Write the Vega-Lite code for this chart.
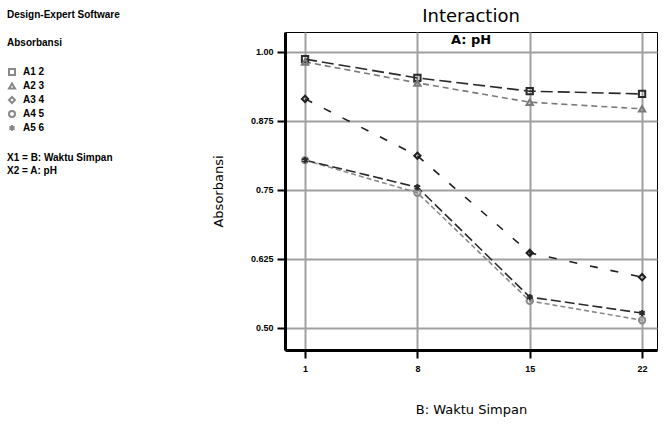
{
  "$schema": "https://vega.github.io/schema/vega-lite/v6.json",
  "autosize": "none",
  "width": 372,
  "height": 318,
  "padding": {"left": 285, "top": 32, "right": 8, "bottom": 74},
  "background": "white",
  "title": {
    "text": "Interaction",
    "subtitle": "A: pH",
    "anchor": "middle",
    "offset": -37,
    "font": "DejaVu Sans",
    "fontSize": 18,
    "fontWeight": "normal",
    "color": "#000",
    "subtitleFont": "DejaVu Sans",
    "subtitleFontSize": 13,
    "subtitleFontWeight": "bold",
    "subtitleColor": "#000",
    "subtitlePadding": 8
  },
  "config": {
    "view": {"stroke": "#000", "strokeWidth": 1},
    "axis": {
      "gridColor": "#a0a0a0",
      "gridWidth": 2,
      "gridOpacity": 1,
      "domainColor": "#000",
      "domainWidth": 3,
      "tickColor": "#000",
      "tickWidth": 2,
      "tickSize": 8,
      "labelFont": "Liberation Sans",
      "labelFontSize": 9,
      "labelFontWeight": "bold",
      "labelColor": "#000",
      "titleFont": "DejaVu Sans",
      "titleFontSize": 13,
      "titleFontWeight": "normal",
      "titleColor": "#000"
    }
  },
  "resolve": {"scale": {"color": "independent", "strokeDash": "independent"}},
  "datasets": {
    "points": [
      {"series": "A1 2", "t": 1, "abs": 0.987},
      {"series": "A1 2", "t": 8, "abs": 0.953},
      {"series": "A1 2", "t": 15, "abs": 0.929},
      {"series": "A1 2", "t": 22, "abs": 0.924},
      {"series": "A2 3", "t": 1, "abs": 0.982},
      {"series": "A2 3", "t": 8, "abs": 0.944},
      {"series": "A2 3", "t": 15, "abs": 0.909},
      {"series": "A2 3", "t": 22, "abs": 0.897},
      {"series": "A3 4", "t": 1, "abs": 0.915},
      {"series": "A3 4", "t": 8, "abs": 0.812},
      {"series": "A3 4", "t": 15, "abs": 0.636},
      {"series": "A3 4", "t": 22, "abs": 0.592},
      {"series": "A4 5", "t": 1, "abs": 0.804},
      {"series": "A4 5", "t": 8, "abs": 0.745},
      {"series": "A4 5", "t": 15, "abs": 0.549},
      {"series": "A4 5", "t": 22, "abs": 0.514},
      {"series": "A5 6", "t": 1, "abs": 0.804},
      {"series": "A5 6", "t": 8, "abs": 0.755},
      {"series": "A5 6", "t": 15, "abs": 0.556},
      {"series": "A5 6", "t": 22, "abs": 0.527}
    ],
    "notes": [
      {"note": "factors"}
    ]
  },
  "layer": [
    {
      "data": {"name": "points"},
      "mark": {"type": "line", "strokeWidth": 1.6},
      "encoding": {
        "x": {
          "field": "t", "type": "quantitative",
          "scale": {"domain": [-0.25, 22.93], "nice": false, "zero": false},
          "axis": {"values": [1, 8, 15, 22], "title": "B: Waktu Simpan", "titlePadding": 30, "labelPadding": 6, "format": "d"}
        },
        "y": {
          "field": "abs", "type": "quantitative",
          "scale": {"domain": [0.4601, 1.0362], "nice": false, "zero": false},
          "axis": {
            "values": [0.5, 0.625, 0.75, 0.875, 1.0],
            "title": "Absorbansi",
            "titlePadding": 25,
            "labelPadding": 4,
            "labelExpr": "length(format(datum.value, '.3~f')) < 5 ? format(datum.value, '.2f') : format(datum.value, '.3f')"
          }
        },
        "color": {
          "field": "series", "type": "nominal",
          "scale": {"domain": ["A1 2", "A2 3", "A3 4", "A4 5", "A5 6"], "range": ["#2a2a2a", "#7a7a7a", "#1e1e1e", "#8a8a8a", "#2a2a2a"]},
          "legend": null
        },
        "strokeDash": {
          "field": "series", "type": "nominal",
          "scale": {"domain": ["A1 2", "A2 3", "A3 4", "A4 5", "A5 6"], "range": [[12, 5], [6, 4], [8, 13], [5, 3], [10, 4]]},
          "legend": null
        }
      }
    },
    {
      "data": {"name": "points"},
      "mark": {"type": "point", "filled": false, "strokeWidth": 2, "size": 40, "opacity": 1},
      "encoding": {
        "x": {"field": "t", "type": "quantitative"},
        "y": {"field": "abs", "type": "quantitative"},
        "color": {
          "field": "series", "type": "nominal",
          "scale": {"domain": ["A1 2", "A2 3", "A3 4", "A4 5", "A5 6"], "range": ["#2a2a2a", "#7a7a7a", "#1e1e1e", "#8a8a8a", "#2a2a2a"]},
          "legend": null
        },
        "shape": {
          "field": "series", "type": "nominal",
          "scale": {
            "domain": ["A1 2", "A2 3", "A3 4", "A4 5", "A5 6"],
            "range": ["square", "triangle-up", "diamond", "circle", "M0,-1L0,1M-0.87,-0.5L0.87,0.5M-0.87,0.5L0.87,-0.5"]
          },
          "legend": {
            "orient": "none",
            "legendX": -278,
            "legendY": -22,
            "title": ["Design-Expert Software", "Absorbansi"],
            "titleFont": "Liberation Sans",
            "titleFontSize": 10,
            "titleFontWeight": "bold",
            "titleColor": "#000",
            "titleLineHeight": 28,
            "titlePadding": 19,
            "labelFont": "Liberation Sans",
            "labelFontSize": 10,
            "labelFontWeight": "bold",
            "labelOffset": 6,
            "symbolSize": 36,
            "symbolStrokeWidth": 2,
            "symbolFillColor": "transparent",
            "rowPadding": 0,
            "padding": 0,
            "encode": {
              "symbols": {"update": {"stroke": {"signal": "datum.label == 'A2 3' || datum.label == 'A4 5' ? '#777777' : '#222222'"}, "fill": {"value": "transparent"}}},
              "labels": {"update": {"fill": {"signal": "datum.label == 'A2 3' || datum.label == 'A4 5' ? '#777777' : '#222222'"}}}
            }
          }
        }
      }
    },
    {
      "data": {"name": "notes"},
      "mark": {"type": "point", "opacity": 0},
      "encoding": {
        "fill": {
          "field": "note", "type": "nominal",
          "scale": {"domain": ["factors"], "range": ["#ffffff"]},
          "legend": {
            "orient": "none",
            "legendX": -278,
            "legendY": 121,
            "title": ["X1 = B: Waktu Simpan", "X2 = A: pH"],
            "titleFont": "Liberation Sans",
            "titleFontSize": 10,
            "titleFontWeight": "bold",
            "titleColor": "#000",
            "titleLineHeight": 13,
            "symbolSize": 1,
            "symbolOpacity": 0,
            "labelExpr": "''",
            "padding": 0
          }
        }
      }
    }
  ]
}
